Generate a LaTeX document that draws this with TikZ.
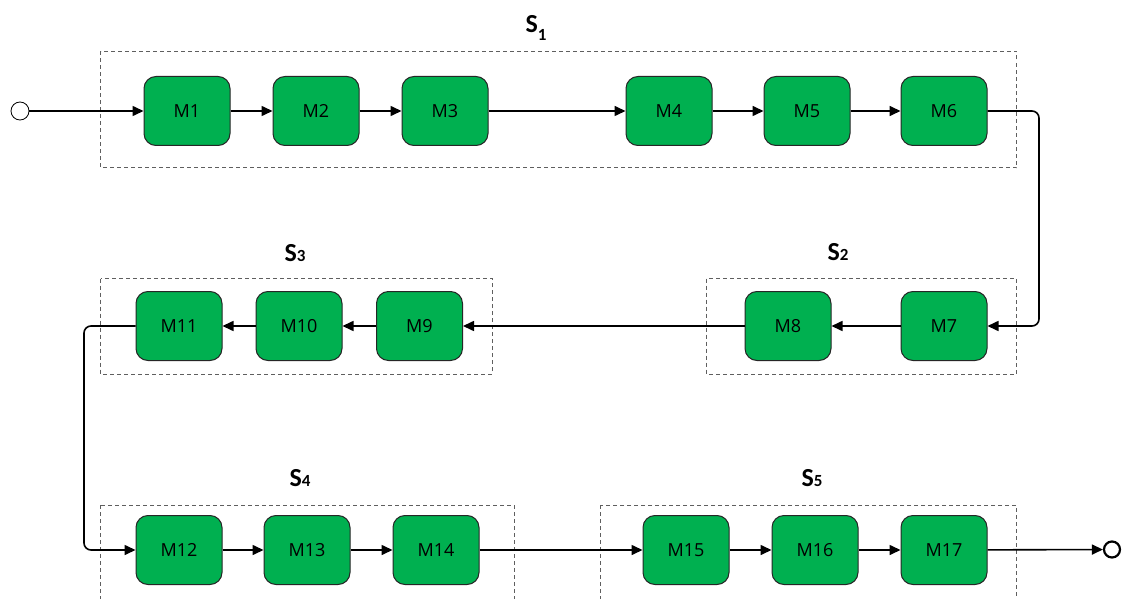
\documentclass[tikz,border=0pt]{standalone}
\usepackage{fontspec}
\setmainfont{Carlito}
\newfontfamily\mlabfont{Open Sans}
\usetikzlibrary{arrows.meta}
\definecolor{mgreen}{HTML}{00B050}
\definecolor{mborder}{HTML}{262626}
\definecolor{dashgray}{HTML}{5F5F5F}
\tikzset{
  mbox/.style={draw=mborder, line width=1pt, fill=mgreen, rounded corners=12pt,
    minimum width=86pt, minimum height=69pt, inner sep=0pt,
    font=\mlabfont\fontsize{18}{18}\selectfont},
  stagebox/.style={draw=dashgray, line width=1pt, dash pattern=on 4pt off 3pt},
  conn/.style={draw=black, line width=1.6pt, -{Triangle[length=11pt,width=10pt]}},
  stagelab/.style={font=\fontsize{26}{26}\selectfont\bfseries, inner sep=0pt},
  endpt/.style={circle, draw=black, fill=white, inner sep=0pt},
}
\begin{document}
\begin{tikzpicture}[x=1pt,y=-1pt]
\clip (0,0) rectangle (1122,599);
\fill[white] (0,0) rectangle (1122,599);
% stage boxes
\draw[stagebox] (100.5,51.5) rectangle (1016.5,168);
\draw[stagebox] (706.5,278.5) rectangle (1016.5,374);
\draw[stagebox] (100.5,278.5) rectangle (492,374);
\draw[stagebox] (100.5,505) rectangle (514,650);
\draw[stagebox] (600,505) rectangle (1016.5,650);
% stage labels
\node[stagelab] (S1) at (536,28) {S\raisebox{-0.28em}{\fontsize{17}{17}\selectfont 1}};
\node[stagelab] (S2) at (838,252) {S{\fontsize{17}{17}\selectfont 2}};
\node[stagelab] (S3) at (295,253) {S{\fontsize{17}{17}\selectfont 3}};
\node[stagelab] (S4) at (300,478) {S{\fontsize{17}{17}\selectfont 4}};
\node[stagelab] (S5) at (812,478) {S{\fontsize{17}{17}\selectfont 5}};
% machines row 1
\node[mbox] (M1) at (187,111) {M1};
\node[mbox] (M2) at (316,111) {M2};
\node[mbox] (M3) at (445,111) {M3};
\node[mbox] (M4) at (669,111) {M4};
\node[mbox] (M5) at (807,111) {M5};
\node[mbox] (M6) at (944,111) {M6};
% row 2
\node[mbox] (M7) at (944,326) {M7};
\node[mbox] (M8) at (788,326) {M8};
\node[mbox] (M9) at (419.5,326) {M9};
\node[mbox] (M10) at (299,326) {M10};
\node[mbox] (M11) at (179,326) {M11};
% row 3
\node[mbox] (M12) at (179,550) {M12};
\node[mbox] (M13) at (307,550) {M13};
\node[mbox] (M14) at (436,550) {M14};
\node[mbox] (M15) at (686,550) {M15};
\node[mbox] (M16) at (815,550) {M16};
\node[mbox] (M17) at (944,550) {M17};
% start / end
\node[endpt, line width=0.8pt, minimum size=18pt] (start) at (20,111) {};
\node[endpt, line width=2.2pt, minimum size=16pt] (finish) at (1112,549.5) {};
% turn points
\coordinate (r1) at (1039,111);
\coordinate (r2) at (1039,326);
\coordinate (l1) at (84,326);
\coordinate (l2) at (84,550);
% connectors
\draw[conn] (start) -- (M1);
\draw[conn] (M1) -- (M2);
\draw[conn] (M2) -- (M3);
\draw[conn] (M3) -- (M4);
\draw[conn] (M4) -- (M5);
\draw[conn] (M5) -- (M6);
\draw[conn, rounded corners=7pt] (M6.east) -- (r1) -- (r2) -- (M7.east);
\draw[conn] (M7) -- (M8);
\draw[conn] (M8) -- (M9);
\draw[conn] (M9) -- (M10);
\draw[conn] (M10) -- (M11);
\draw[conn, rounded corners=7pt] (M11.west) -- (l1) -- (l2) -- (M12.west);
\draw[conn] (M12) -- (M13);
\draw[conn] (M13) -- (M14);
\draw[conn] (M14) -- (M15);
\draw[conn] (M15) -- (M16);
\draw[conn] (M16) -- (M17);
\draw[conn] (M17) -- (finish);
\end{tikzpicture}
\end{document}
